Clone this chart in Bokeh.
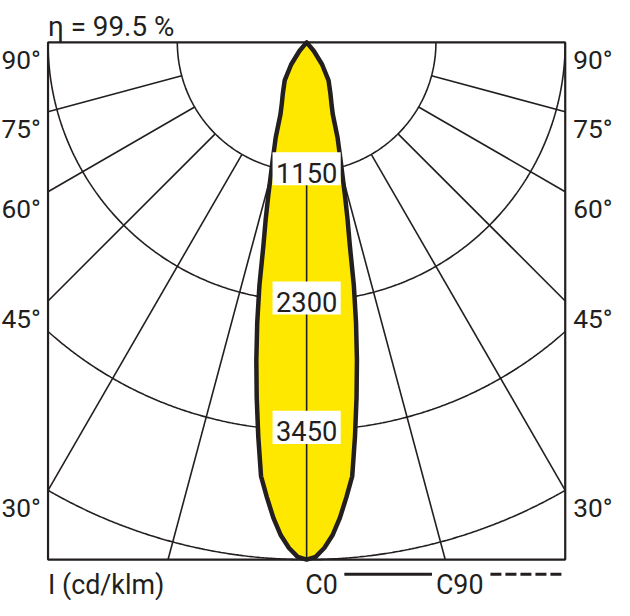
import numpy as np
from bokeh.plotting import figure
from bokeh.models import Range1d
from bokeh.core.properties import value
from bokeh.embed import file_html
from bokeh.resources import INLINE

# ---------------- data ----------------
angles_deg = [0, 1, 2, 3, 4, 5, 6, 7, 8, 9, 10, 11, 12, 13, 14, 16, 18, 20, 22, 25, 30, 35, 40, 45]
intensity_c0 = [4600, 4577, 4500, 4390, 4240, 4060, 3880, 3530, 3190, 2860, 2530, 2200, 1850, 1620,
                1415, 1100, 890, 680, 590, 500, 390, 240, 100, 0]
ring_values = [1150, 2300, 3450, 4600]
ring_labels = ["1150", "2300", "3450"]
spoke_angles = [15, 30, 45, 60, 75]
side_angles = [90, 75, 60, 45, 30]
efficiency_text = "η = 99.5 %"
unit_text = "I (cd/klm)"
legend_c0 = "C0"
legend_c90 = "C90"

# ---------------- style / layout ----------------
FONT = "Roboto"
INK = "#231F20"
YELLOW = "#FFE800"

W, H = 614, 600
K = 0.974                       # reference px -> canvas px
S_REF = 4600 / 531.0            # cd/klm per reference pixel
S = S_REF / K                   # cd/klm per canvas pixel
OX_REF, OY_REF = 314.3, 43.0    # light centre in reference pixels
x0 = -OX_REF * K * S
x1 = x0 + W * S
y1 = OY_REF * K * S
y0 = y1 - H * S


def ux(px):   # reference x pixel -> data units (layout helper for texts)
    return (px - OX_REF) * S_REF


def uy(py):   # reference y pixel -> data units
    return -(py - OY_REF) * S_REF


def fs(px):
    return f"{px * K:.1f}px"


rmax = ring_values[-1]
half_w = rmax * np.sin(np.radians(30))   # frame half width

p = figure(width=W, height=H, x_range=Range1d(x0, x1), y_range=Range1d(y0, y1),
           output_backend="svg", toolbar_location=None, min_border=0,
           x_axis_type=None, y_axis_type=None, outline_line_color=None,
           background_fill_color="white", border_fill_color="white")
p.grid.visible = False

# rings (clipped to frame)
for r in ring_values:
    tmax = np.pi / 2 if r <= half_w else np.arcsin(half_w / r)
    t = np.linspace(-tmax, tmax, 300)
    p.line(r * np.sin(t), -r * np.cos(t), line_color=INK, line_width=1.6)

# spokes from the first ring out to the frame
r0 = ring_values[0]
for a in spoke_angles:
    ar = np.radians(a)
    t_end = min(half_w / np.sin(ar), rmax / np.cos(ar))
    for sgn in (-1, 1):
        p.line([sgn * r0 * np.sin(ar), sgn * t_end * np.sin(ar)],
               [-r0 * np.cos(ar), -t_end * np.cos(ar)], line_color=INK, line_width=1.6)

# frame
p.quad(left=-half_w, right=half_w, top=0, bottom=-rmax, fill_color=None,
       line_color=INK, line_width=2.2)

# intensity curve (C0; C90 identical)
ang = np.array(angles_deg, dtype=float)
inten = np.array(intensity_c0, dtype=float)
full_ang = np.concatenate([-ang[::-1], ang[1:]])
full_int = np.concatenate([inten[::-1], inten[1:]])
tr = np.radians(full_ang)
p.patch(full_int * np.sin(tr), -full_int * np.cos(tr), fill_color=YELLOW,
        line_color=INK, line_width=4.5, line_join="round")

# 0° spoke over the fill
p.line([0, 0], [-r0, -rmax], line_color=INK, line_width=1.6)

# ring labels with white boxes
lab_r = ring_values[:3]
p.rect(x=[0] * 3, y=[-r + 3 * S_REF for r in lab_r], width=70 * K, height=34 * K,
       width_units="screen", height_units="screen", fill_color="white", line_color=None)
p.text(x=[0] * 3, y=[-r - 1 * S_REF for r in lab_r], text=ring_labels, text_align="center",
       text_baseline="middle", text_font=value(FONT), text_font_size=fs(28),
       text_color=INK)

# side angle labels
hits = [0.0 if a == 90 else -half_w / np.tan(np.radians(a)) for a in side_angles]
txt = [f"{a}°" for a in side_angles]
p.text(x=[ux(1)] * 5, y=[h - 18 * S_REF for h in hits], text=txt,
       text_align="left", text_baseline="alphabetic", text_font=value(FONT),
       text_font_size=fs(27), text_color=INK)
p.text(x=[ux(588)] * 5, y=[h - 18 * S_REF for h in hits], text=txt,
       text_align="left", text_baseline="alphabetic", text_font=value(FONT),
       text_font_size=fs(27), text_color=INK)

# title
p.text(x=[-half_w], y=[uy(27)], text=[efficiency_text], text_align="left",
       text_baseline="alphabetic", text_font=value(FONT), text_font_size=fs(28.5),
       text_color=INK)

# bottom texts and legend
yb = uy(600)
p.text(x=[-half_w, ux(313), ux(447)], y=[yb] * 3, text=[unit_text, legend_c0, legend_c90],
       text_align="left", text_baseline="alphabetic", text_font=value(FONT),
       text_font_size=fs(27.5), text_color=INK)
yl = uy(589)
p.line([ux(353), ux(443)], [yl, yl], line_color=INK, line_width=3)
p.line([ux(503), ux(577)], [yl, yl], line_color=INK, line_width=3, line_dash="11 4")

open("out.html", "w").write(file_html(p, INLINE))
